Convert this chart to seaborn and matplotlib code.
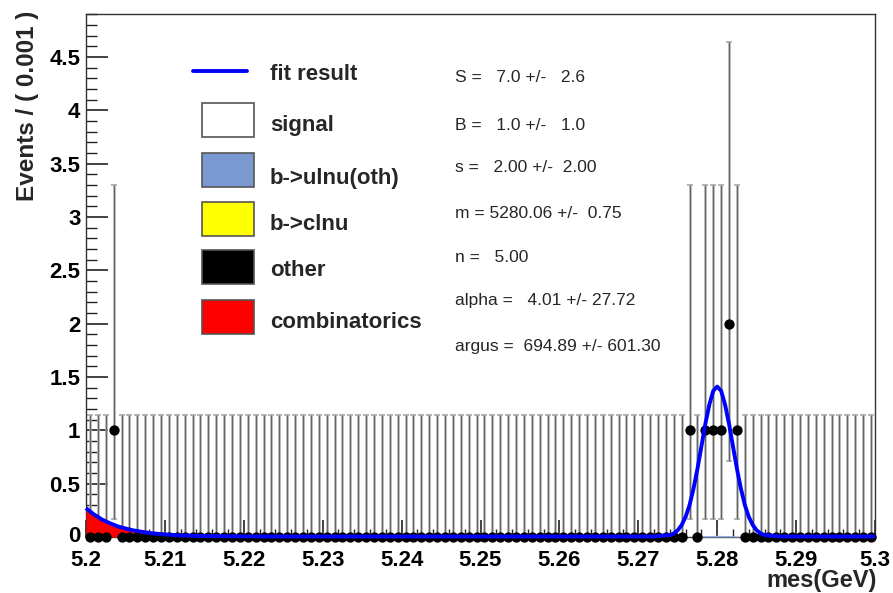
import numpy as np
import pandas as pd
import matplotlib
matplotlib.use("Agg")
import matplotlib.pyplot as plt
from matplotlib.ticker import MultipleLocator, FixedLocator, FixedFormatter
from matplotlib.patches import Rectangle
from matplotlib.lines import Line2D
import matplotlib.transforms as mtransforms
import seaborn as sns

# ---------------- data ----------------
bin_width = 0.001
n_bins = 100
x_low, x_high = 5.2, 5.3
# non-empty bins: bin index -> events
filled_bins = {3: 1, 76: 1, 78: 1, 79: 1, 80: 1, 81: 2, 82: 1}
# Poisson (ROOT) asymmetric errors per count
poisson_err = {0: (0.0, 1.148), 1: (0.827, 2.299), 2: (1.291, 2.637)}

# fit curve (background + signal)
fit_x = [5.200, 5.201, 5.202, 5.203, 5.204, 5.205, 5.206, 5.208, 5.210, 5.212,
         5.215, 5.220, 5.225, 5.230, 5.270, 5.272, 5.274, 5.2745, 5.275, 5.2755,
         5.276, 5.2765, 5.277, 5.2775, 5.278, 5.2785, 5.279, 5.2795, 5.280,
         5.2805, 5.281, 5.2815, 5.282, 5.2825, 5.283, 5.2835, 5.284, 5.2845,
         5.285, 5.2855, 5.286, 5.288, 5.300]
fit_y = [0.27, 0.212, 0.165, 0.13, 0.10, 0.08, 0.062, 0.038, 0.024, 0.015,
         0.009, 0.006, 0.005, 0.005, 0.005, 0.005, 0.018, 0.033, 0.063, 0.113,
         0.19, 0.30, 0.455, 0.64, 0.85, 1.06, 1.24, 1.37, 1.41,
         1.37, 1.24, 1.06, 0.85, 0.64, 0.455, 0.30, 0.19, 0.113,
         0.063, 0.033, 0.018, 0.005, 0.005]

# combinatorics component (red)
comb_x = [5.200, 5.201, 5.202, 5.203, 5.204, 5.205, 5.206, 5.208, 5.210, 5.212,
          5.215, 5.220, 5.225, 5.230]
comb_y = [0.27, 0.212, 0.165, 0.13, 0.10, 0.08, 0.062, 0.038, 0.024, 0.015,
          0.007, 0.002, 0.0005, 0.0]

# small b->ulnu (light blue) and b->clnu (yellow) components near the peak
ulnu_x = [5.2765, 5.278, 5.280, 5.282, 5.2835]
ulnu_y = [0.0, 0.012, 0.016, 0.012, 0.0]
clnu_x = [5.2765, 5.2835]
clnu_y = [0.004, 0.004]

legend_labels = ["fit result", "signal", "b->ulnu(oth)", "b->clnu", "other", "combinatorics"]
legend_colors = ["#0000ff", "#ffffff", "#7a99d0", "#ffff00", "#000000", "#ff0000"]

param_lines = ["S =   7.0 +/-   2.6",
               "B =   1.0 +/-   1.0",
               "s =   2.00 +/-  2.00",
               "m = 5280.06 +/-  0.75",
               "n =   5.00",
               "alpha =   4.01 +/- 27.72",
               "argus =  694.89 +/- 601.30"]

xtick_vals = [5.20, 5.21, 5.22, 5.23, 5.24, 5.25, 5.26, 5.27, 5.28, 5.29, 5.30]
xtick_labels = ["5.2", "5.21", "5.22", "5.23", "5.24", "5.25", "5.26", "5.27", "5.28", "5.29", "5.3"]
ytick_vals = [0, 0.5, 1, 1.5, 2, 2.5, 3, 3.5, 4, 4.5]
ytick_labels = ["0", "0.5", "1", "1.5", "2", "2.5", "3", "3.5", "4", "4.5"]

# ---------------- build tables ----------------
centers = x_low + (np.arange(n_bins) + 0.5) * bin_width
counts = np.array([filled_bins.get(i, 0) for i in range(n_bins)])
err_lo = np.array([poisson_err[c][0] for c in counts])
err_hi = np.array([poisson_err[c][1] for c in counts])
hist_df = pd.DataFrame({"x": centers, "y": counts})
fit_df = pd.DataFrame({"x": fit_x, "y": fit_y})

# ---------------- plot ----------------
sns.set_theme(style="white")
plt.rcParams["font.family"] = ["Liberation Sans", "DejaVu Sans"]

fig = plt.figure(figsize=(8.93, 5.93), dpi=100)
ax = fig.add_axes([86 / 893, 1 - 537 / 593, (875 - 86) / 893, (537 - 14) / 593])
ax.set_facecolor("white")

# error bars
ax.errorbar(hist_df["x"], hist_df["y"], yerr=[err_lo, err_hi], fmt="none",
            ecolor="#a8a8a8", elinewidth=1.8, capsize=2.2, capthick=1.2, zorder=2)
ax.errorbar(hist_df["x"], hist_df["y"], yerr=[err_lo, err_hi], fmt="none",
            ecolor="#5a5a5a", elinewidth=0.6, capsize=0, zorder=2)

# components
ax.fill_between(comb_x, 0, comb_y, color="#ff0000", lw=0, zorder=4)
ax.fill_between(clnu_x, 0, clnu_y, color="#999933", lw=0, zorder=4)
ax.fill_between(ulnu_x, 0, ulnu_y, color="#8fb0e0", lw=0, zorder=4)

# data points
pts = sns.scatterplot(data=hist_df, x="x", y="y", ax=ax, color="black", s=55,
                      edgecolor="black", linewidth=0, zorder=5, legend=False)
pts.collections[-1].set_clip_on(False)

# fit line
sns.lineplot(data=fit_df, x="x", y="y", ax=ax, color="#0000ff", lw=2.8,
             estimator=None, sort=False, zorder=7, legend=False)
ax.lines[-1].set_clip_on(False)
ax.lines[-1].set_solid_capstyle("butt")

ax.set_xlim(x_low, x_high)
ax.set_ylim(0, (537 - 14) / 106.67)

# ticks
ax.xaxis.set_major_locator(FixedLocator(xtick_vals))
ax.xaxis.set_major_formatter(FixedFormatter(xtick_labels))
ax.xaxis.set_minor_locator(MultipleLocator(0.002))
ax.yaxis.set_major_locator(FixedLocator(ytick_vals))
ax.yaxis.set_major_formatter(FixedFormatter(ytick_labels))
ax.yaxis.set_minor_locator(MultipleLocator(0.1))
ax.tick_params(axis="both", which="both", direction="in", color="#222222",
               bottom=True, left=True, top=False, right=False)
ax.tick_params(axis="y", which="major", length=16, width=1.2, labelsize=16, pad=4)
ax.tick_params(axis="y", which="minor", length=8, width=1.0)
ax.tick_params(axis="x", which="major", length=12, width=1.2, labelsize=16, pad=9)
ax.tick_params(axis="x", which="minor", length=6, width=1.0)
for lab in ax.get_xticklabels() + ax.get_yticklabels():
    lab.set_fontweight("bold")
    lab.set_color("black")
# lift the "0" label slightly so it sits above "5.2" like in the reference
zero_lab = ax.get_yticklabels()[0]
zero_lab.set_transform(zero_lab.get_transform() +
                       mtransforms.ScaledTranslation(0, 3 / 100, fig.dpi_scale_trans))

for sp in ax.spines.values():
    sp.set_color("#333333")
    sp.set_linewidth(1.0)

ax.set_xlabel("")
ax.set_ylabel("")
fig.text(877 / 893, 1 - 581 / 593, "mes(GeV)", ha="right", va="center",
         fontsize=17, fontweight="bold")
fig.text(28 / 893, 1 - 11 / 593, "Events / ( 0.001 )", ha="center", va="top",
         rotation=90, fontsize=17.5, fontweight="bold")

# legend (drawn manually in pixel coordinates)
def px(x, y):
    return (x / 893, 1 - y / 593)

fig.add_artist(Line2D([193 / 893, 247 / 893], [1 - 71 / 593, 1 - 71 / 593],
                      color=legend_colors[0], lw=2.8))
fig.text(*px(270, 74), legend_labels[0], fontsize=16, fontweight="bold", va="center")
box_tops = [103, 153, 202, 250, 300]
text_ys = [126, 178, 224, 271, 322]
for i in range(5):
    bx, by = px(202, box_tops[i] + 34)
    fig.add_artist(Rectangle((bx, by), 52 / 893, 34 / 593, transform=fig.transFigure,
                             facecolor=legend_colors[i + 1], edgecolor="#555555", lw=1.2))
    fig.text(*px(270, text_ys[i]), legend_labels[i + 1], fontsize=16,
             fontweight="bold", va="center")

param_ys = [77, 125, 168, 213, 258, 301, 347]
for t, yy in zip(param_lines, param_ys):
    fig.text(*px(455, yy), t, fontsize=12.5, va="center")

fig.savefig("out.png", dpi=100)
